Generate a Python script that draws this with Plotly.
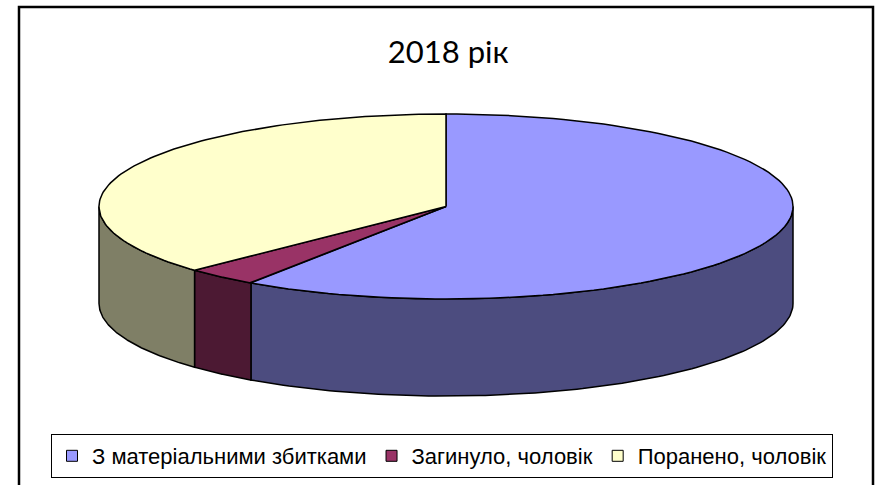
import numpy as np
import plotly.graph_objects as go

# ---- data ----
categories = ["З матеріальними збитками", "Загинуло, чоловік", "Поранено, чоловік"]
values = [59.5, 3.4, 37.1]
top_colors = ["#9999FF", "#993366", "#FFFFCC"]
side_colors = ["#4C4C7F", "#4C1933", "#7F7F66"]
title_text = "2018 рік"

# ---- 3D pie geometry (layout constants, pixel-like axis units) ----
W, H = 877, 485
CX, CY, RX, RY, DEPTH = 446, 206.5, 347, 92.5, 97
START_ANGLE = 90.0


def arc(t0, t1, dz=0.0, n=120):
    t = np.radians(np.linspace(t0, t1, n))
    return CX + RX * np.cos(t), CY - RY * np.sin(t) + dz


fracs = np.array(values, dtype=float) / float(np.sum(values))
bounds = START_ANGLE - 360.0 * np.concatenate([[0.0], np.cumsum(fracs)])

fig = go.Figure()
line_style = dict(color="black", width=1.5)

# side walls (front half only: angles between -180 and 0)
for i in range(len(values)):
    a_start, a_end = bounds[i], bounds[i + 1]  # a_end < a_start
    lo, hi = max(a_end, -180.0), min(a_start, 0.0)
    if hi <= lo:
        continue
    xt, yt = arc(hi, lo)
    xb, yb = arc(lo, hi, DEPTH)
    xs = np.concatenate([xt, xb, xt[:1]])
    ys = np.concatenate([yt, yb, yt[:1]])
    fig.add_trace(go.Scatter(x=xs, y=ys, mode="lines", fill="toself",
                             fillcolor=side_colors[i], line=line_style,
                             hoverinfo="skip", showlegend=False))

# top faces
for i in range(len(values)):
    xa, ya = arc(bounds[i], bounds[i + 1])
    xs = np.concatenate([[CX], xa, [CX]])
    ys = np.concatenate([[CY], ya, [CY]])
    fig.add_trace(go.Scatter(x=xs, y=ys, mode="lines", fill="toself",
                             fillcolor=top_colors[i], line=line_style,
                             hoverinfo="skip", showlegend=False))

# legend entries
for i, cat in enumerate(categories):
    fig.add_trace(go.Scatter(x=[None], y=[None], mode="markers", name=cat,
                             marker=dict(symbol="square", size=11, color=top_colors[i],
                                         line=dict(color="black", width=1))))

fig.update_layout(
    width=W, height=H,
    margin=dict(l=0, r=0, t=0, b=0),
    paper_bgcolor="white", plot_bgcolor="white",
    xaxis=dict(range=[0, W], visible=False, fixedrange=True),
    yaxis=dict(range=[H, 0], visible=False, fixedrange=True),
    title=dict(text=title_text, x=0.511, xanchor="center", y=1 - 52 / H, yanchor="middle",
               font=dict(family="Lato, Open Sans, sans-serif", size=31, color="black")),
    legend=dict(orientation="h", x=442 / W, xanchor="center", y=(H - 456) / H, yanchor="middle",
                font=dict(family="Liberation Sans, Arial, sans-serif", size=22, color="black"),
                bordercolor="black", borderwidth=1, bgcolor="white", itemwidth=30,
                tracegroupgap=0),
    shapes=[dict(type="rect", xref="paper", yref="paper", x0=19 / W, x1=873 / W,
                 y0=-0.05, y1=1 - 7 / H, line=dict(color="black", width=2.5))],
    showlegend=True,
)

fig.write_html("out.html")
